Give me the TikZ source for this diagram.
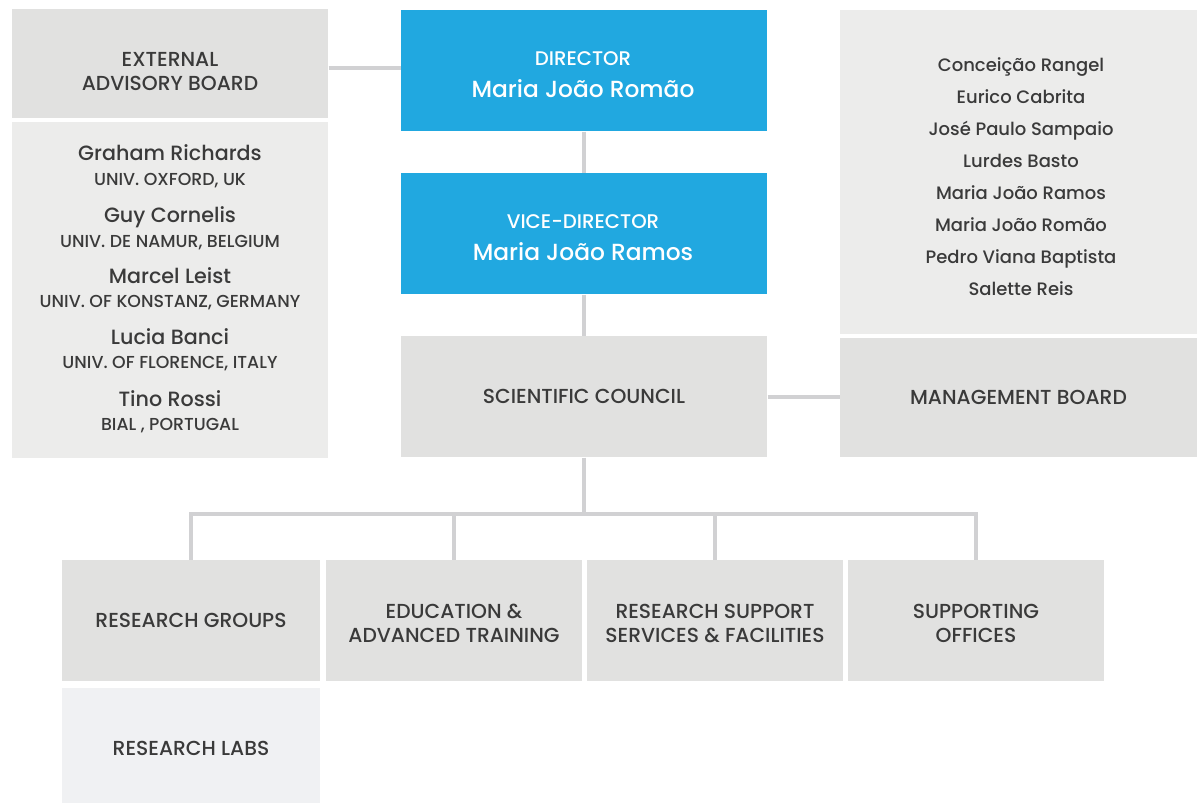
\documentclass[tikz,border=0pt]{standalone}
\usepackage{fontspec}
\setmainfont{Poppins Medium}

\definecolor{boardgrey}{RGB}{225,225,224}
\definecolor{listgrey}{RGB}{236,236,235}
\definecolor{labgrey}{RGB}{240,241,243}
\definecolor{headblue}{RGB}{33,168,224}
\definecolor{linkgrey}{RGB}{209,209,211}
\definecolor{inkgrey}{RGB}{58,58,58}

\tikzset{every picture/.style={line width=0.75pt}}
\tikzset{
  unit/.style={fill=boardgrey, text=inkgrey, inner sep=0pt, align=center,
    font=\fontsize{15.2}{18}\selectfont},
  head/.style={fill=headblue, text=white, inner sep=0pt, align=center},
  caption/.style={text=inkgrey, inner sep=0pt, align=center, font=\fontsize{15.2}{18}\selectfont},
  role/.style={text=white, inner sep=0pt, anchor=base, font=\fontsize{14.8}{16}\selectfont},
  chief/.style={text=white, inner sep=0pt, anchor=base, font=\fontsize{17.5}{20}\selectfont},
  member/.style={text=inkgrey, inner sep=0pt, anchor=base, font=\fontsize{15.5}{18}\selectfont},
  affil/.style={text=inkgrey, inner sep=0pt, anchor=base, font=\fontsize{13}{14}\selectfont},
  staff/.style={text=inkgrey, inner sep=0pt, anchor=base, font=\fontsize{13.5}{16}\selectfont},
  link/.style={draw=linkgrey, line width=3pt},
}

\begin{document}
\begin{tikzpicture}[x=0.75pt,y=0.75pt,yscale=-1,xscale=1]
\useasboundingbox (0,0) rectangle (1197,803);

%Shape: Rectangle [external board]
\node [unit, minimum width=237pt, minimum height=81.75pt] (eab) at (170,63.5) {};
%Shape: Rectangle [advisors]
\node [unit, fill=listgrey, minimum width=237pt, minimum height=252pt] (advisors) at (170,290) {};
%Shape: Rectangle [director]
\node [head, minimum width=274.5pt, minimum height=90.75pt] (dir) at (584,70.5) {};
%Shape: Rectangle [vice-director]
\node [head, minimum width=274.5pt, minimum height=90.75pt] (vice) at (584,233.5) {};
%Shape: Rectangle [scientific council]
\node [unit, minimum width=274.5pt, minimum height=90.75pt] (sc) at (584,396.5) {SCIENTIFIC COUNCIL};
%Shape: Rectangle [management list]
\node [unit, fill=listgrey, minimum width=267.75pt, minimum height=243pt] (staff) at (1018.5,172) {};
%Shape: Rectangle [management board]
\node [unit, minimum width=267.75pt, minimum height=89.25pt] (mb) at (1018.5,397.5) {MANAGEMENT BOARD};

%Shape: Rectangle [bottom row]
\node [unit, minimum width=193.5pt, minimum height=90.75pt] (rg) at (191,620.5) {RESEARCH GROUPS};
\node [unit, minimum width=192pt, minimum height=90.75pt] (edu) at (454,620.5) {};
\node [unit, minimum width=192pt, minimum height=90.75pt] (rss) at (715,620.5) {};
\node [unit, minimum width=192pt, minimum height=90.75pt] (so) at (976,620.5) {};
%Shape: Rectangle [labs]
\node [unit, fill=labgrey, minimum width=193.5pt, minimum height=86.25pt] (labs) at (191,745.5) {};

% Text Node
\node [caption] (eabtext) at (170,72) {EXTERNAL\\ADVISORY BOARD};
\node [caption] (edutext) at (454,623) {EDUCATION \&\\ADVANCED TRAINING};
\node [caption] (rsstext) at (715,623) {RESEARCH SUPPORT\\SERVICES \& FACILITIES};
\node [caption] (sotext)  at (976,623) {SUPPORTING\\OFFICES};
\node [caption] (labtext) at (191,748) {RESEARCH LABS};

% Text Node
\node [role]  (dirrole)  at (583,65) {DIRECTOR};
\node [chief] (dirname)  at (583,97) {Maria João Romão};
\node [role]  (vicerole) at (583,228) {VICE-DIRECTOR};
\node [chief] (vicename) at (583,260) {Maria João Ramos};

% Text Node
\node [member] (adv1) at (170,160) {Graham Richards};
\node [affil]  (aff1) at (170,185) {UNIV. OXFORD, UK};
\node [member] (adv2) at (170,222) {Guy Cornelis};
\node [affil]  (aff2) at (170,247) {UNIV. DE NAMUR, BELGIUM};
\node [member] (adv3) at (170,283) {Marcel Leist};
\node [affil]  (aff3) at (170,307) {UNIV. OF KONSTANZ, GERMANY};
\node [member] (adv4) at (170,344) {Lucia Banci};
\node [affil]  (aff4) at (170,368) {UNIV. OF FLORENCE, ITALY};
\node [member] (adv5) at (170,406) {Tino Rossi};
\node [affil]  (aff5) at (170,430) {BIAL , PORTUGAL};

% Text Node
\node [staff] (mgr1) at (1021,71) {Conceição Rangel};
\node [staff] (mgr2) at (1021,103) {Eurico Cabrita};
\node [staff] (mgr3) at (1021,135) {José Paulo Sampaio};
\node [staff] (mgr4) at (1021,167) {Lurdes Basto};
\node [staff] (mgr5) at (1021,199) {Maria João Ramos};
\node [staff] (mgr6) at (1021,231) {Maria João Romão};
\node [staff] (mgr7) at (1021,263) {Pedro Viana Baptista};
\node [staff] (mgr8) at (1021,295) {Salette Reis};

%Straight Lines
\coordinate (tap) at (360,68);
\draw [link] (tap -| eab.east) -- (tap -| dir.west);
\draw [link] (dir) -- (vice);
\draw [link] (vice) -- (sc);
\draw [link] (sc.east) -- (sc.east -| mb.west);
\coordinate (bus) at (584,514);
\draw [link] (sc.south) -- (sc.south |- bus);
\draw [link, line join=miter] (rg.north) -- (rg.north |- bus) -- (so.north |- bus) -- (so.north);
\draw [link] (edu.north |- bus) -- (edu.north);
\draw [link] (rss.north |- bus) -- (rss.north);

\end{tikzpicture}
\end{document}
